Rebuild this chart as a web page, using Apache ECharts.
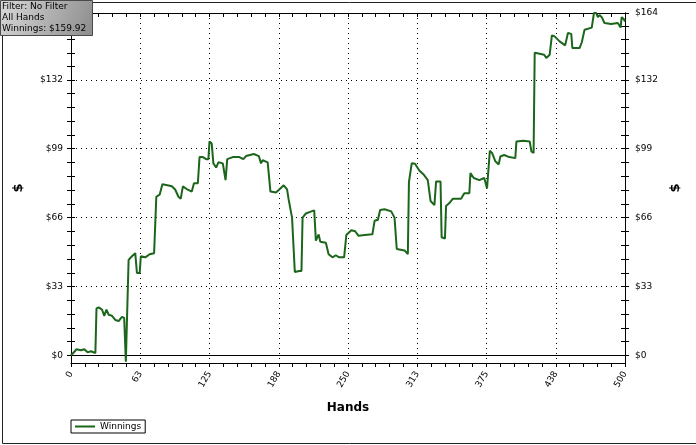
<!DOCTYPE html>
<html>
<head>
<meta charset="utf-8">
<script src="https://cdn.jsdelivr.net/npm/echarts@6/dist/echarts.min.js"></script>
<style>
html,body{margin:0;padding:0;background:#fff;}
#c{width:696px;height:445px;}
</style>
</head>
<body>
<div id="c"></div>
<script>
// ---- data ----
const hands = [0,5,9,12,15,18,22,23,25,28,30,32,34,37,40,43,46,48,49.5,51,52,55,58,59.5,62,63,67,71,75,77,80,82.5,87,91,94,97,99,101,105,109,111,114.5,116,119,122,124,125,127,128.5,131,133,137,139.5,141,146,152,155.5,158,165,169.5,171.5,173,177.5,180,185,188,192,195,196.5,199.5,201,202,206,208,209,212,217,219.5,221,223.5,225,230,232.5,236,239,242,246.5,248.5,253,256.5,259.5,265,272,274,277,279,283,289,292,294,301,304,305,307.5,310.5,314.5,318.5,322,324.5,328,329.5,333.5,334.5,337.5,338.5,341.5,344.5,352,355,359.5,360.5,363.5,368.5,373,375.5,377,378,380,383,386,387.5,391,395.5,401,402,408,414,415.5,417.5,418.5,423,427,429,432,434,436.5,441,446,448.5,451.5,452.5,459,461,463.5,470,472,474,475.5,477,479,481.5,487.5,493.5,495,496,497,499,500];
const winnings = [0,3,2.5,3,1.5,2,1.2,22.5,23,22,19,22,19.5,19,17,16.5,18.5,18,-3,-3,45.8,47.5,49,39.5,39.5,47.5,47,48.5,49,76,77,82,81.5,81,79.5,76,75,81,79.5,78.5,82.5,82.5,95,95,94,94,102.5,101.5,92,90,92.5,92,84,94,95,95,94,95.5,96.5,95.5,92,93.5,92.5,78.5,78,79.5,81.5,79.5,74.5,66,66,40,40.5,40.5,66,68,69,69.5,55,58,54.5,54,48.5,47,48,47,47,57.7,60,59.5,57.3,57.7,58,64.5,65,69.7,70,69,66,51,50.3,48.5,83,92,91.8,88.5,86.5,84,74,72,83.3,83.3,56.6,56,71.6,73,75,75,77.7,77.7,87.3,85,84,85,80,80,98,97,93,91.5,95.3,96,95,94.5,102.5,102.8,102.5,97.7,97,145,144.5,144,142.5,144,153.3,152.8,150.4,148.5,154.4,154,147.2,147.2,150,156,157,164,164,162,163,162,159.2,158.7,159.2,158,157,162,161,159.92];
const yTickLabels = [0,33,66,99,132,164];
const xMin = 0, xMax = 500, xStep = 62.5;
const yMin = -3.6, yMax = 164;
const infoLines = ['Filter: No Filter','All Hands','Winnings: $159.92'];
const seriesName = 'Winnings';

// ---- derived tick lists ----
const yAllTicks = [];
for (let i = 0; i < yTickLabels.length - 1; i++) {
  const a = yTickLabels[i], b = yTickLabels[i+1];
  for (let k = 0; k < 5; k++) yAllTicks.push(+(a + (b - a) * k / 5).toFixed(3));
}
yAllTicks.push(yTickLabels[yTickLabels.length-1]);
const yGridVals = yTickLabels.slice(1, -1);

const FONT = 'DejaVu Sans';
const dotted = {color:'#000', width:1, type:[1,4]};

const chart = echarts.init(document.getElementById('c'), null, {renderer:'canvas'});

function yAx(pos, inside, labels, extra) {
  return Object.assign({
    type:'value', position:pos, min:yMin, max:yMax,
    axisLine:{show:true, onZero:false, lineStyle:{color:'#000', width:1}},
    axisTick:{show:true, inside:inside, length:4, customValues:yAllTicks, lineStyle:{color:'#000'}},
    axisLabel:{show:labels, customValues:yTickLabels, formatter:v=>'$'+v, color:'#000',
      fontFamily:FONT, fontSize:9, margin: pos==='left'?8:10},
    splitLine:{show:false}
  }, extra||{});
}

const option = {
  animation:false,
  backgroundColor:'#fff',
  grid:{left:71, right:71, top:13, bottom:82, containLabel:false},
  legend:{
    left:71, top:420, orient:'horizontal',
    data:[seriesName], icon:'rect', itemWidth:20, itemHeight:2,
    padding:[2,4,2,4], borderColor:'#000', borderWidth:1, borderRadius:0,
    backgroundColor:'#fff',
    textStyle:{fontFamily:FONT, fontSize:9, color:'#000', padding:[0,10,0,0]}
  },
  xAxis:[
    {type:'value', position:'bottom', min:xMin, max:xMax, interval:xStep,
      name:'Hands', nameLocation:'middle', nameGap:39,
      nameTextStyle:{fontFamily:FONT, fontSize:12, fontWeight:'bold', color:'#000'},
      axisLine:{onZero:false, lineStyle:{color:'#000'}},
      axisTick:{show:true, length:4, lineStyle:{color:'#000'}},
      minorTick:{show:true, splitNumber:5, length:4, lineStyle:{color:'#000'}},
      axisLabel:{rotate:60, margin:9, formatter:v=>String(Math.round(v)), color:'#000',
        fontFamily:FONT, fontSize:9, showMinLabel:true, showMaxLabel:true},
      splitLine:{show:true, lineStyle:dotted}
    },
    {type:'value', position:'top', min:xMin, max:xMax, interval:xStep,
      axisLine:{onZero:false, lineStyle:{color:'#000'}},
      axisTick:{show:true, inside:true, length:4, lineStyle:{color:'#000'}},
      minorTick:{show:true, splitNumber:5, length:4, lineStyle:{color:'#000'}},
      axisLabel:{show:false}, splitLine:{show:false}
    }
  ],
  yAxis:[
    yAx('left', false, true, {name:'$', nameLocation:'middle', nameGap:46, nameRotate:90,
      nameTextStyle:{fontFamily:FONT, fontSize:13, fontWeight:'bold', color:'#000'}}),
    yAx('left', true, false),
    yAx('right', false, true, {name:'$', nameLocation:'middle', nameGap:42, nameRotate:90,
      nameTextStyle:{fontFamily:FONT, fontSize:13, fontWeight:'bold', color:'#000'}}),
    yAx('right', true, false),
    {type:'value', position:'left', min:yMin, max:yMax,
      axisLine:{show:false}, axisTick:{show:false, customValues:yGridVals},
      axisLabel:{show:false}, splitLine:{show:true, lineStyle:dotted}}
  ],
  series:[{
    name:seriesName, type:'line', xAxisIndex:0, yAxisIndex:0,
    data: hands.map((h,i)=>[h, winnings[i]]),
    showSymbol:false, symbol:'none',
    lineStyle:{color:'#1b661b', width:2},
    itemStyle:{color:'#1b661b'},
    z:5,
    markLine:{silent:true, symbol:'none', label:{show:false},
      lineStyle:{color:'#000', width:1, type:'solid'},
      data:[{yAxis:0}], z:3}
  }],
  graphic:[
    {type:'rect', left:0, top:0, silent:true, z:0,
      shape:{x:0.5, y:0.5, width:694, height:441},
      style:{fill:'none', stroke:'#222', lineWidth:1}},
    {type:'rect', left:0, top:0, z:100,
      shape:{width:92, height:35},
      style:{fill:new echarts.graphic.LinearGradient(0,0,1,1,[
        {offset:0, color:'#d8d8d8'},{offset:1, color:'#8c8c8c'}]),
        stroke:'#4a4a4a', lineWidth:1}},
    {type:'text', left:2, top:1, z:101,
      style:{text:infoLines.join('\n'), fontFamily:FONT, fontSize:9, lineHeight:11, fill:'#000'}}
  ]
};
chart.setOption(option);
</script>
</body>
</html>
